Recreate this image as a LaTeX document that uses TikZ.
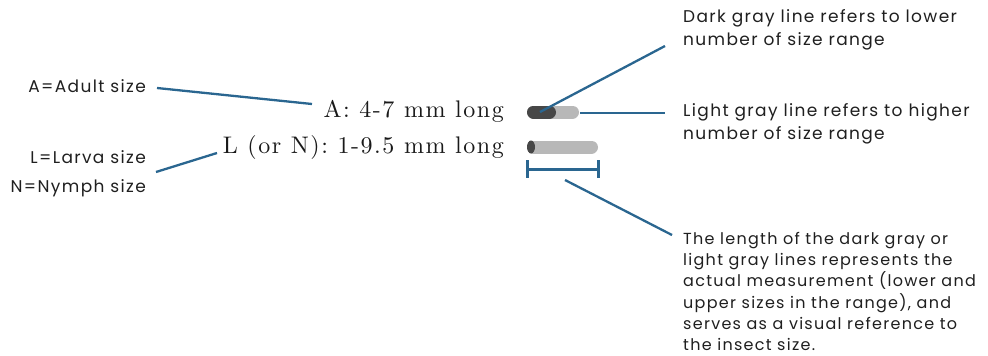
\documentclass[tikz,border=0pt]{standalone}
\usepackage{fontspec}
\newfontfamily\labfont{Poppins}[LetterSpace=8]
\newfontfamily\bigserif{lmroman10-regular}[Extension=.otf, LetterSpace=6.5]
\definecolor{lineblue}{HTML}{2A6690}
\definecolor{darkbar}{HTML}{474747}
\definecolor{lightbar}{HTML}{B8B8B8}
\tikzset{
  lab/.style={font=\labfont\fontsize{17}{23}\selectfont, inner sep=0pt, align=left, text=black!88},
  big/.style={font=\bigserif\fontsize{24}{28}\selectfont, inner sep=0pt, anchor=base east, text=black!90},
  conn/.style={draw=lineblue, line width=2.3pt},
  barlight/.style={draw=lightbar, line width=13pt, line cap=round},
  bardark/.style={draw=darkbar, line width=13pt, line cap=round},
}
\begin{document}
\begin{tikzpicture}[x=1pt,y=-1pt]
\useasboundingbox (0,0) rectangle (988,356);
% left labels
\node[lab, anchor=east] (adult) at (146,86) {A=Adult size};
\node[lab, anchor=east] (larva) at (146,157) {L=Larva size};
\node[lab, anchor=east] (nymph) at (146,188) {N=Nymph size};
% big texts
\node[big] (atext) at (504,117) {A: 4-7 mm long};
\node[big] (ltext) at (504,153) {L (or N): 1-9.5 mm long};
% bars
\draw[barlight] (533.5,112) -- (572.5,112);
\draw[bardark] (533.5,112) -- (549.5,112);
\draw[barlight] (533.5,147) -- (591.5,147);
\fill[darkbar] (531,147) ellipse [x radius=4, y radius=6.5];
% bracket
\coordinate (bl) at (527,169);
\coordinate (br) at (598,169);
\draw[lineblue, line width=3pt] (bl) -- (br);
\draw[lineblue, line width=3pt] (527,160) -- (527,178);
\draw[lineblue, line width=3pt] (598,160) -- (598,178);
% right labels
\node[lab, anchor=west] (dark) at (683,30) {Dark gray line refers to lower\\number of size range};
\node[lab, anchor=west] (light) at (683,124) {Light gray line refers to higher\\number of size range};
\node[lab, anchor=north west, font=\labfont\fontsize{16}{21.2}\selectfont] (length) at (683,232) {The length of the dark gray or\\light gray lines represents the\\actual measurement (lower and\\upper sizes in the range), and\\serves as a visual reference to\\the insect size.};
% connector coordinates
\coordinate (a1) at (157,88);
\coordinate (a2) at (312,104);
\coordinate (l1) at (156,172);
\coordinate (l2) at (217,153);
\coordinate (d1) at (540,112);
\coordinate (d2) at (665,46);
\coordinate (g1) at (580,113);
\coordinate (g2) at (665,113);
\coordinate (m1) at (565,180);
\coordinate (m2) at (672,235);
\draw[conn] (a1) -- (a2);
\draw[conn] (l1) -- (l2);
\draw[conn] (d1) -- (d2);
\draw[conn] (g1) -- (g2);
\draw[conn] (m1) -- (m2);
\end{tikzpicture}
\end{document}
